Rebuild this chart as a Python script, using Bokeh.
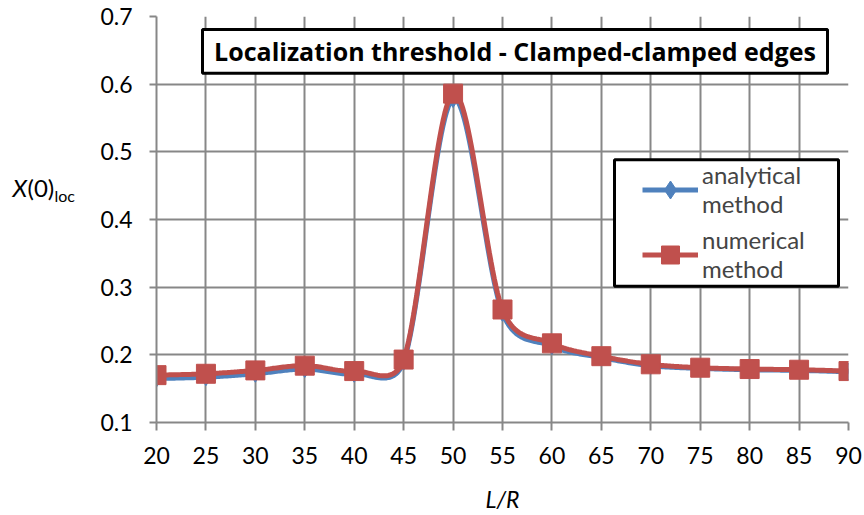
import numpy as np
from bokeh.plotting import figure
from bokeh.layouts import row
from bokeh.models import Label, BoxAnnotation, Legend, LegendItem, FixedTicker
from bokeh.embed import file_html
from bokeh.resources import INLINE

# ---- data ----
l_over_r = [20, 25, 30, 35, 40, 45, 50, 55, 60, 65, 70, 75, 80, 85, 90]
analytical = [0.165, 0.167, 0.172, 0.179, 0.172, 0.190, 0.578, 0.262, 0.213,
              0.196, 0.184, 0.180, 0.178, 0.177, 0.175]
numerical = [0.170, 0.172, 0.177, 0.184, 0.176, 0.193, 0.586, 0.267, 0.217,
             0.198, 0.186, 0.181, 0.179, 0.178, 0.176]
x_ticks = [20, 25, 30, 35, 40, 45, 50, 55, 60, 65, 70, 75, 80, 85, 90]
y_ticks = [0.1, 0.2, 0.3, 0.4, 0.5, 0.6, 0.7]
title_text = "Localization threshold - Clamped-clamped edges"
legend_labels = ["analytical\nmethod", "numerical\nmethod"]
x_label = "L/R"

BLUE = "#4F81BD"
RED = "#C0504D"
GRID = "#878787"
FONT = "Lato"

TOTAL_W, H = 864, 515
LW = 80                      # left strip holding the y-axis title
W = TOTAL_W - LW
BL, BR, BT, BB = 76, 16, 16, 91
FW, FH = W - BL - BR, H - BT - BB
X0, X1 = 20, 90
Y0, Y1 = 0.1, 0.7
FRAME_LEFT = LW + BL


def dx(px):  # page px -> data x
    return X0 + (px - FRAME_LEFT) / FW * (X1 - X0)


def dy(py):  # page py -> data y
    return Y1 - (py - BT) / FH * (Y1 - Y0)


def smooth(xs, ys, n=30, cap=0.6):
    """Spreadsheet-style smoothed line: Catmull-Rom style cubic Bezier
    segments (in screen space) with control arms capped by segment length."""
    sx = FW / (X1 - X0)
    sy = FH / (Y1 - Y0)
    P = np.column_stack([np.array(xs, float) * sx, np.array(ys, float) * sy])
    m = len(P)
    out = []

    def arm(v, seglen):
        L = np.linalg.norm(v)
        lim = cap * seglen
        return v * (lim / L) if L > lim and L > 0 else v

    for i in range(m - 1):
        p1, p2 = P[i], P[i + 1]
        seglen = np.linalg.norm(p2 - p1)
        p0 = P[i - 1] if i > 0 else p1
        p3 = P[i + 2] if i + 2 < m else p2
        c1 = p1 + arm((p2 - p0) / 6.0, seglen)
        c2 = p2 - arm((p3 - p1) / 6.0, seglen)
        t = np.linspace(0, 1, n, endpoint=(i == m - 2))[:, None]
        seg = ((1 - t) ** 3) * p1 + 3 * ((1 - t) ** 2) * t * c1 + 3 * (1 - t) * t ** 2 * c2 + t ** 3 * p2
        out.append(seg)
    out = np.vstack(out)
    return out[:, 0] / sx, out[:, 1] / sy


p = figure(width=W, height=H, x_range=(X0, X1), y_range=(Y0, Y1),
           output_backend="svg", toolbar_location=None,
           min_border_left=BL, min_border_right=BR, min_border_top=BT, min_border_bottom=BB)
p.outline_line_color = None
p.background_fill_color = "white"
p.border_fill_color = "white"

for ax in (p.xaxis, p.yaxis):
    ax.axis_line_color = GRID
    ax.axis_line_width = 2
    ax.major_tick_line_color = GRID
    ax.major_tick_line_width = 2
    ax.major_tick_in = 0
    ax.minor_tick_line_color = None
    ax.major_label_text_font = FONT
    ax.major_label_text_font_size = "23px"
    ax.major_label_text_color = "black"

p.xaxis.major_tick_out = 8
p.yaxis.major_tick_out = 7
p.xaxis.ticker = FixedTicker(ticks=x_ticks)
p.yaxis.ticker = FixedTicker(ticks=y_ticks)
p.xaxis.major_label_standoff = 16
p.yaxis.major_label_standoff = 17
p.xaxis.axis_label = x_label
p.xaxis.axis_label_text_font = FONT
p.xaxis.axis_label_text_font_style = "italic"
p.xaxis.axis_label_text_font_size = "23px"
p.xaxis.axis_label_text_color = "black"
p.xaxis.axis_label_standoff = 18

p.xgrid.ticker = FixedTicker(ticks=x_ticks)
p.ygrid.ticker = FixedTicker(ticks=y_ticks)
for g in (p.xgrid, p.ygrid):
    g.grid_line_color = GRID
    g.grid_line_width = 2

ax_s, ay_s = smooth(l_over_r, analytical)
nx_s, ny_s = smooth(l_over_r, numerical)

r_a = p.line(ax_s, ay_s, line_color=BLUE, line_width=5)
m_a = p.scatter(l_over_r, analytical, marker="diamond", size=17, color=BLUE)
r_n = p.line(nx_s, ny_s, line_color=RED, line_width=5)
m_n = p.scatter(l_over_r, numerical, marker="square", size=19, color=RED)

# title box
p.add_layout(BoxAnnotation(left=dx(202), right=dx(827), top=dy(29), bottom=dy(73),
                           fill_color="white", fill_alpha=1, line_color="black",
                           line_alpha=1, line_width=3))
p.add_layout(Label(x=dx(514.5), y=dy(51), text=title_text, text_align="center",
                   text_baseline="middle", text_font="Open Sans", text_font_style="bold",
                   text_font_size="25px", text_color="black"))

# legend box
p.add_layout(BoxAnnotation(left=dx(614), right=dx(838), top=dy(160), bottom=dy(287),
                           fill_color="white", fill_alpha=1, line_color="black",
                           line_alpha=1, line_width=3))

legend = Legend(items=[LegendItem(label=legend_labels[0], renderers=[r_a, m_a]),
                       LegendItem(label=legend_labels[1], renderers=[r_n, m_n])],
                location=(642 - FRAME_LEFT, 139), padding=0, margin=0, spacing=7,
                glyph_width=56, glyph_height=45, label_standoff=4,
                label_text_font=FONT, label_text_font_size="24px",
                label_text_line_height=1.3,
                background_fill_alpha=0, border_line_color=None)
p.add_layout(legend)

# left strip with the y-axis title X(0)loc
lp = figure(width=LW, height=H, x_range=(0, LW), y_range=(H, 0),
            output_backend="svg", toolbar_location=None,
            x_axis_location=None, y_axis_location=None,
            min_border_left=0, min_border_right=0, min_border_top=0, min_border_bottom=0)
lp.outline_line_color = None
lp.xgrid.visible = False
lp.ygrid.visible = False
lp.add_layout(Label(x=12, y=216.5, text="X", text_align="left", text_baseline="middle",
                    text_font=FONT, text_font_style="italic", text_font_size="24px",
                    text_color="black"))
lp.add_layout(Label(x=27, y=216.5, text="(0)", text_align="left", text_baseline="middle",
                    text_font=FONT, text_font_size="24px", text_color="black"))
lp.add_layout(Label(x=54, y=227, text="loc", text_align="left", text_baseline="middle",
                    text_font=FONT, text_font_size="16px", text_color="black"))

layout = row(lp, p, spacing=0)
open("out.html", "w").write(file_html(layout, INLINE))
